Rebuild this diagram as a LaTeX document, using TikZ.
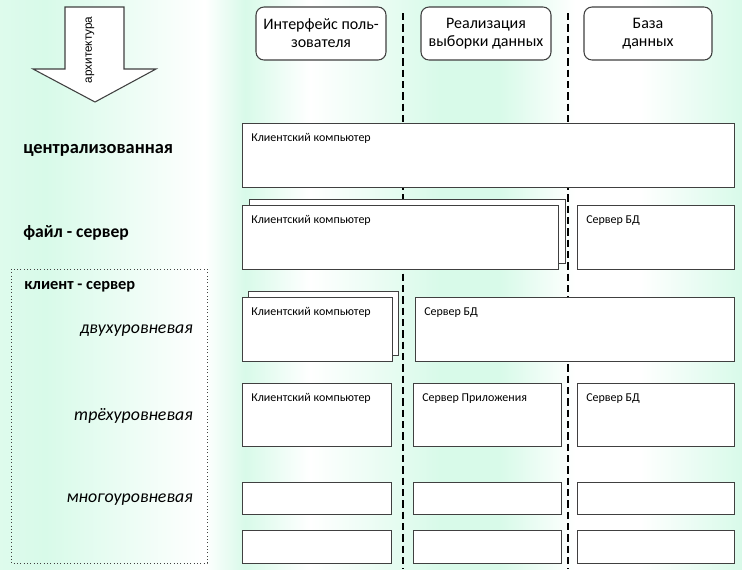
\documentclass[tikz,border=0pt]{standalone}
\usepackage{fontspec}
\setmainfont{Carlito}
\newfontfamily\archfont{Liberation Sans}
\usetikzlibrary{calc, positioning}
\definecolor{bgMint}{RGB}{216,250,233}
\definecolor{lineGray}{gray}{0.25}

\begin{document}
\begin{tikzpicture}[x=0.75pt, y=-0.75pt,
    box/.style={draw=lineGray, line width=0.9pt, fill=white, anchor=north west, inner sep=0pt},
    sz/.style 2 args={minimum width=#1*0.75pt, minimum height=#2*0.75pt},
    boxtext/.style={font=\fontsize{9}{10}\selectfont, anchor=north west, inner sep=0pt},
    head/.style={draw=lineGray, line width=0.8pt, fill=white, rounded corners=6pt, align=center,
                 inner sep=0pt, font=\fontsize{12}{13.5}\selectfont},
    arch/.style={font=\bfseries\fontsize{13.8}{15}\selectfont, anchor=west, inner sep=0pt},
    tier/.style={font=\itshape\fontsize{13.4}{15}\selectfont, anchor=east, inner sep=0pt},
    sep/.style={line width=1.1pt, dash pattern=on 5.5pt off 3pt}]

    % background
    \useasboundingbox (0,0) rectangle (742,569);
    \foreach \xa/\xb/\ca/\cb in {0/45/bgMint!85/bgMint, 45/205/bgMint/white, 205/245/white/bgMint,
        245/310/bgMint/white, 310/440/white/bgMint, 440/500/bgMint/bgMint, 500/575/bgMint/white,
        575/640/white/white, 640/742/white/bgMint}
        \shade[left color=\ca, right color=\cb] (\xa,0) rectangle (\xb,569);

    % column separators
    \coordinate (s1t) at (403,13);
    \coordinate (s1b) at (403,569);
    \coordinate (s2t) at (568,13);
    \coordinate (s2b) at (568,569);
    \draw[sep] (s1t) -- (s1b);
    \draw[sep] (s2t) -- (s2b);

    % arrow
    \draw[lineGray, line width=0.8pt, fill=white]
        (65,7) -- (124,7) -- (124,69) -- (156,69) -- (95,102) -- (33,69) -- (65,69) -- cycle;
    \node[rotate=90, font=\archfont\fontsize{8.8}{10}\selectfont, inner sep=0pt] (arrowLabel) at (90,50) {архитектура};

    % headers
    \node[head, sz={130}{53}] (hUI) at (321,33.5) {Интерфейс поль-\\зователя};
    \node[head, sz={130}{53}] (hLogic) at (486,33.5) {Реализация\\выборки данных};
    \node[head, sz={128}{53}] (hDB) at (648,33.5) {База\\данных};

    % row labels
    \node[arch] (lCentral) at (23,150) {централизованная};
    \node[arch, font=\bfseries\fontsize{13.2}{15}\selectfont] (lFile) at (23,233) {файл - сервер};
    \draw[lineGray, line width=0.5pt, dotted] (11,269) rectangle (207,563);
    \node[arch, font=\bfseries\fontsize{12.3}{13}\selectfont] (lCS) at (24,287) {клиент - сервер};
    \node[tier] (lTwo) at (193,331) {двухуровневая};
    \node[tier] (lThree) at (193,416) {трёхуровневая};
    \node[tier] (lMulti) at (193,500) {многоуровневая};

    % centralized
    \node[box, sz={492}{64}] (cClient) at (242,123) {};
    \node[boxtext] (cClientT) at ($(cClient.north west)+(9,10)$) {Клиентский компьютер};

    % file - server
    \node[box, sz={316}{64}] (fClientB) at (249,199) {};
    \node[box, sz={316}{64}] (fClient) at (242,205) {};
    \node[boxtext] (fClientT) at ($(fClient.north west)+(9,10)$) {Клиентский компьютер};
    \node[box, sz={157}{64}] (fServer) at (577,205) {};
    \node[boxtext] (fServerT) at ($(fServer.north west)+(9,10)$) {Сервер БД};

    % two-tier
    \node[box, sz={150}{64}] (tClientB) at (248,291) {};
    \node[box, sz={150}{64}] (tClient) at (242,297) {};
    \node[boxtext] (tClientT) at ($(tClient.north west)+(9,10)$) {Клиентский компьютер};
    \node[box, sz={319}{64}] (tServer) at (415,297) {};
    \node[boxtext] (tServerT) at ($(tServer.north west)+(9,10)$) {Сервер БД};

    % three-tier
    \node[box, sz={149}{63}] (rClient) at (242,383) {};
    \node[boxtext] (rClientT) at ($(rClient.north west)+(9,10)$) {Клиентский компьютер};
    \node[box, sz={148}{63}] (rApp) at (413,383) {};
    \node[boxtext] (rAppT) at ($(rApp.north west)+(9,10)$) {Сервер Приложения};
    \node[box, sz={157}{63}] (rServer) at (577,383) {};
    \node[boxtext] (rServerT) at ($(rServer.north west)+(9,10)$) {Сервер БД};

    % multi-tier
    \foreach \y/\h/\r in {482/32/a, 530/33/b} {
        \node[box, sz={149}{\h}] (m\r1) at (242,\y) {};
        \node[box, sz={148}{\h}] (m\r2) at (413,\y) {};
        \node[box, sz={157}{\h}] (m\r3) at (577,\y) {};
    }
\end{tikzpicture}
\end{document}
